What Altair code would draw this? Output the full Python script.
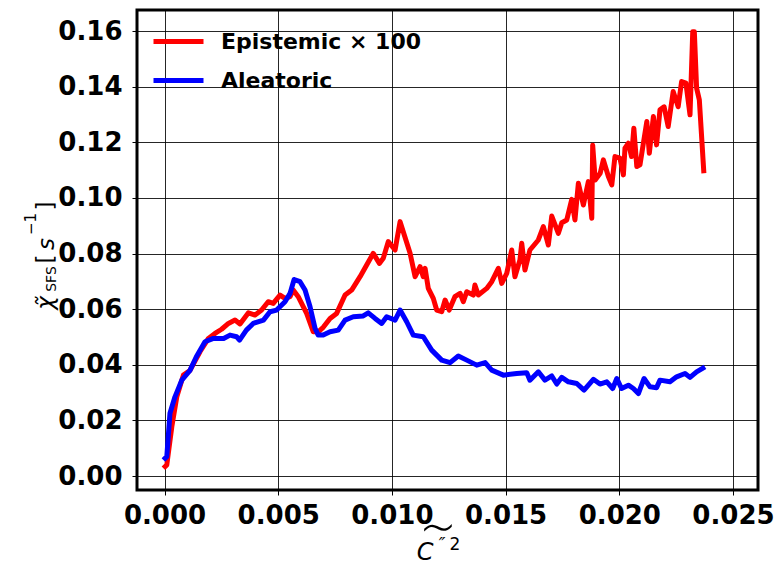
import altair as alt
import pandas as pd

# Epistemic x 100 (red)
epi_x = [-0.00005, 0.0001, 0.00032, 0.00054, 0.00083, 0.00112, 0.00156, 0.00193, 0.00222, 0.00251,
         0.00281, 0.0031, 0.00332, 0.00369, 0.00398, 0.00427, 0.00456, 0.00478, 0.00508, 0.0053,
         0.00552, 0.00566, 0.00588, 0.00625, 0.00654, 0.00676, 0.00698, 0.00728, 0.00757, 0.00794,
         0.00823, 0.0086, 0.00889, 0.00918, 0.00945, 0.00962, 0.00984, 0.01014, 0.01036, 0.0108,
         0.01102, 0.01124, 0.01138, 0.01146, 0.0116, 0.01182, 0.01197, 0.01219, 0.01234, 0.01252,
         0.01277, 0.013, 0.01314, 0.01329, 0.01358, 0.01365, 0.0138, 0.01417, 0.01439, 0.01468,
         0.01483, 0.01505, 0.01527, 0.01541, 0.01563, 0.01571, 0.01585, 0.01607, 0.01644, 0.01666,
         0.01688, 0.01703, 0.01732, 0.01747, 0.01769, 0.01791, 0.01805, 0.0182, 0.01842, 0.01864,
         0.01879, 0.01883, 0.01894, 0.01916, 0.0193, 0.01952, 0.01967, 0.01981, 0.02003, 0.02018,
         0.02025, 0.0204, 0.02054, 0.02064, 0.02077, 0.02091, 0.02106, 0.02121, 0.02132, 0.0215,
         0.02164, 0.02179, 0.02197, 0.02215, 0.02237, 0.02259, 0.02274, 0.02293, 0.02311, 0.02323,
         0.0233, 0.0234, 0.02352, 0.02372]
epi_y = [0.0028, 0.004, 0.0177, 0.0285, 0.0363, 0.038, 0.0447, 0.0495, 0.0513, 0.0528,
         0.0549, 0.0561, 0.0547, 0.0587, 0.0579, 0.0597, 0.0627, 0.0621, 0.0651, 0.0639,
         0.0645, 0.0669, 0.0645, 0.0585, 0.0519, 0.0519, 0.0535, 0.0567, 0.0585, 0.0651,
         0.0669, 0.0717, 0.0759, 0.0801, 0.0765, 0.0783, 0.0843, 0.0813, 0.0915, 0.0801,
         0.0717, 0.0753, 0.0717, 0.0747, 0.0675, 0.0639, 0.0597, 0.0591, 0.0633, 0.0597,
         0.0645, 0.0657, 0.0627, 0.0663, 0.0651, 0.0687, 0.0651, 0.0675, 0.0699, 0.0747,
         0.0693, 0.0729, 0.0813, 0.0717, 0.0777, 0.0837, 0.0741, 0.0813, 0.0849, 0.0897,
         0.0831, 0.0935, 0.0873, 0.0911, 0.0921, 0.0995, 0.0921, 0.1053, 0.0975, 0.1059,
         0.0927, 0.119, 0.1065, 0.1089, 0.1137, 0.1077, 0.1047, 0.1149, 0.1143, 0.1083,
         0.1179, 0.1197, 0.1149, 0.1251, 0.1113, 0.1119, 0.1197, 0.1275, 0.1161, 0.1293,
         0.1191, 0.1317, 0.1328, 0.1257, 0.1383, 0.1328, 0.1419, 0.1413, 0.1299, 0.1598,
         0.1598, 0.1395, 0.1353, 0.1089]

# Aleatoric (blue)
ale_x = [-0.00005, 0.0001, 0.00024, 0.00046, 0.00076, 0.00112, 0.0014, 0.00178, 0.00215, 0.0026,
         0.00288, 0.00317, 0.0033, 0.0036, 0.0039, 0.00435, 0.00464, 0.00493, 0.0053, 0.00552,
         0.0057, 0.00596, 0.00618, 0.0064, 0.00662, 0.00676, 0.00698, 0.00728, 0.00764, 0.00794,
         0.0083, 0.00874, 0.00896, 0.00926, 0.00955, 0.00977, 0.01014, 0.01036, 0.01065, 0.01094,
         0.01138, 0.01175, 0.01219, 0.01256, 0.01292, 0.01329, 0.01373, 0.0141, 0.01439, 0.0149,
         0.01549, 0.01593, 0.01607, 0.01644, 0.01673, 0.01703, 0.01725, 0.01747, 0.01776, 0.01813,
         0.01845, 0.01886, 0.01915, 0.01945, 0.01971, 0.01989, 0.0201, 0.0204, 0.02062, 0.02084,
         0.02109, 0.02135, 0.02164, 0.02179, 0.02223, 0.02252, 0.02289, 0.02311, 0.0234, 0.02377]
ale_y = [0.0058, 0.007, 0.0226, 0.0285, 0.0345, 0.038, 0.0429, 0.0483, 0.0495, 0.0495,
         0.0507, 0.0501, 0.0489, 0.0525, 0.0549, 0.0561, 0.0591, 0.0597, 0.0627, 0.0657,
         0.0707, 0.0699, 0.0669, 0.0609, 0.0531, 0.0507, 0.0507, 0.0519, 0.0525, 0.0561,
         0.0573, 0.0576, 0.0587, 0.0567, 0.0549, 0.0573, 0.0561, 0.0597, 0.0555, 0.0507,
         0.0501, 0.0453, 0.0417, 0.0408, 0.0432, 0.0417, 0.0399, 0.0408, 0.0381, 0.0363,
         0.0369, 0.0372, 0.0345, 0.0375, 0.0345, 0.036, 0.0331, 0.0355, 0.0339, 0.0333,
         0.0309, 0.0348, 0.0331, 0.0339, 0.0315, 0.0351, 0.0315, 0.0327, 0.0315, 0.0297,
         0.0351, 0.0321, 0.0318, 0.0345, 0.0339, 0.0357, 0.0369, 0.0355, 0.0375, 0.0393]

series_names = ["Epistemic \u00d7 100", "Aleatoric"]
series_colors = ["#ff0000", "#0000ff"]
x_ticks = [0.0, 0.005, 0.010, 0.015, 0.020, 0.025]
y_ticks = [0.00, 0.02, 0.04, 0.06, 0.08, 0.10, 0.12, 0.14, 0.16]

df_epi = pd.DataFrame({"x": epi_x, "y": epi_y, "series": series_names[0], "order": range(len(epi_x))})
df_ale = pd.DataFrame({"x": ale_x, "y": ale_y, "series": series_names[1], "order": range(len(ale_x))})

FONT = "DejaVu Sans"
xs = alt.Scale(domain=[-0.00121, 0.0261], nice=False, zero=False)
ys = alt.Scale(domain=[-0.005, 0.1676], nice=False, zero=False)
cs = alt.Scale(domain=series_names, range=series_colors)

xaxis = alt.Axis(values=x_ticks, format=".3f", title=None, grid=True, domain=False,
                 tickColor="black", tickSize=5, labelFontSize=26, labelFontWeight="bold",
                 labelColor="black", labelFont=FONT, labelPadding=7, labelFlush=False)
yaxis = alt.Axis(values=y_ticks, format=".2f", title=None, grid=True, domain=False,
                 tickColor="black", tickSize=5, labelFontSize=26, labelFontWeight="bold",
                 labelColor="black", labelFont=FONT, labelPadding=10)
legend = alt.Legend(title=None, orient="none", legendX=14, legendY=4, symbolType="stroke",
                    symbolSize=2500, symbolStrokeWidth=5, labelFontSize=22, labelFontWeight="bold",
                    labelFont=FONT, labelColor="black", labelOffset=15, rowPadding=-11, padding=0,
                    labelLimit=400)

def line(df):
    return alt.Chart(df).mark_line(strokeWidth=5, strokeJoin="round").encode(
        x=alt.X("x:Q", scale=xs, axis=xaxis),
        y=alt.Y("y:Q", scale=ys, axis=yaxis),
        order="order:Q",
        color=alt.Color("series:N", scale=cs, legend=legend),
    )

label_df = pd.DataFrame({"t": ["x"]})

def txt(text, x, y, size, angle=0, style="normal", weight="normal", font=FONT,
        align="center", baseline="alphabetic"):
    return alt.Chart(label_df).mark_text(text=text, fontSize=size, angle=angle, fontStyle=style,
                                         fontWeight=weight, font=font, align=align,
                                         baseline=baseline, color="black").encode(
        x=alt.value(x), y=alt.value(y))

# y title (rotated); coordinates relative to the plot origin
ytitle = (txt("\u03c7\u0303", -84, 293, 23, angle=270, style="italic")
          + txt("SFS", -81, 269, 14, angle=270)
          + txt("[", -84, 249, 23, angle=270)
          + txt("s", -83, 234, 23, angle=270, style="italic")
          + txt("\u22121", -101, 214, 15, angle=270)
          + txt("]", -84, 196, 23, angle=270))
# x title
xtitle = (txt("C", 288, 550, 24, style="italic")
          + txt("\u2033", 305, 540, 18, style="italic")
          + txt("2", 318, 540, 17)
          + txt("\u223c", 301, 521, 58, weight=200, baseline="middle"))

chart = alt.layer(line(df_epi), line(df_ale), ytitle, xtitle).properties(
    width=621, height=480,
    padding={"left": 137, "top": 10, "right": 18, "bottom": 75},
    autosize=alt.AutoSizeParams(type="none"),
).configure_view(stroke="black", strokeWidth=3).configure_axis(
    gridColor="black", gridWidth=1, gridOpacity=0.85
)

chart.save("out.html", embed_options={"renderer": "svg", "actions": False})
